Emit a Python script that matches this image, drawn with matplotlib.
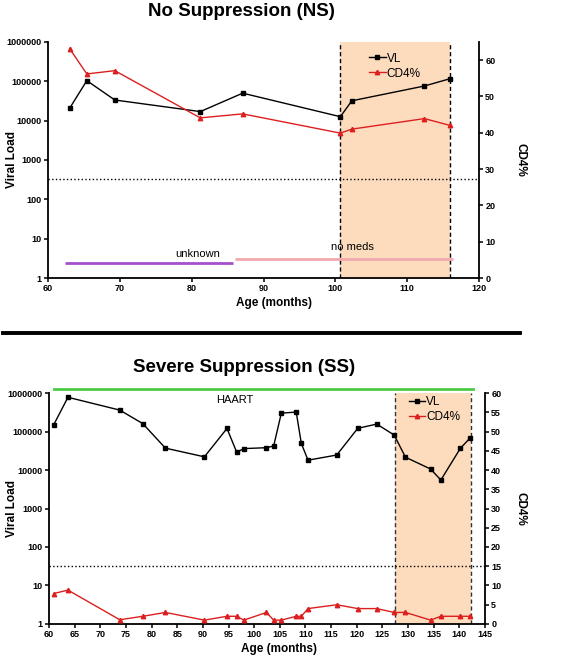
import numpy as np
import matplotlib
matplotlib.use("Agg")
import matplotlib.pyplot as plt
from matplotlib.lines import Line2D

plt.rcParams['font.family'] = ['Liberation Sans', 'DejaVu Sans']

# ── Data: No Suppression (NS) ────────────────────────────────────────────────
ns_age  = [63.0, 65.4, 69.3, 81.2, 87.1, 100.7, 102.3, 112.4, 116.0]
ns_vl   = [20500, 104000, 33500, 17000, 50000, 12600, 32000, 76000, 117000]
ns_cd4  = [63.2, 56.2, 57.1, 44.1, 45.2, 39.9, 41.0, 43.9, 42.0]
ns_shade = (100.7, 116.0)
ns_thresh = 27.3
ns_bars = [("unknown", 62.3, 85.8, 4.1, '#A64FCB', 80.8, 6.7),
           ("no meds", 86.1, 116.4, 5.2, '#F2A8AE', 102.4, 8.5)]

# ── Data: Severe Suppression (SS) ────────────────────────────────────────────
ss_age = [60.9, 63.7, 73.8, 78.3, 82.7, 90.3, 94.7, 96.6, 98.0, 102.4, 103.8,
          105.3, 108.2, 109.2, 110.5, 116.1, 120.2, 123.9, 127.3, 129.5,
          134.4, 136.4, 140.2, 142.1]
ss_vl  = [148000, 775000, 360000, 160000, 37000, 22000, 120000, 29000, 36000,
          38000, 42000, 300000, 320000, 49000, 18000, 24500, 121000, 156000,
          81000, 21500, 10600, 5500, 36500, 68000]
ss_cd4 = [7.9, 8.8, 1.1, 2.0, 3.0, 1.0, 2.0, 2.0, 1.0, 3.0, 1.0, 1.0, 2.0,
          2.0, 4.0, 5.0, 4.0, 4.0, 3.0, 3.0, 1.0, 2.0, 2.0, 2.0]
ss_shade = (127.4, 142.2)
ss_thresh = 15
ss_haart = (61.0, 142.6)

VL_TICKS = [1, 10, 100, 1000, 10000, 100000, 1000000]
RED = '#DC1F1F'
SHADE = '#FDDCBD'

fig = plt.figure(figsize=(5.63, 6.58), dpi=100)


def setup(ax, ax2, xlim, xticks, r_lim, r_ticks):
    ax.set_yscale('log')
    ax.set_ylim(1, 1e6)
    ax.set_xlim(*xlim)
    ax.set_xticks(xticks)
    ax.set_xticklabels([str(t) for t in xticks], fontsize=6.5, fontweight='bold')
    ax.set_yticks(VL_TICKS)
    ax.set_yticklabels([str(t) for t in VL_TICKS], fontsize=6.5, fontweight='bold')
    ax.yaxis.set_minor_locator(matplotlib.ticker.NullLocator())
    ax2.set_ylim(*r_lim)
    ax2.set_yticks(r_ticks)
    ax2.set_yticklabels([str(t) for t in r_ticks], fontsize=6.5, fontweight='bold')
    for a in (ax, ax2):
        a.spines['top'].set_visible(False)
        for s in ('left', 'right', 'bottom'):
            a.spines[s].set_linewidth(1.3)
        a.tick_params(width=1.1, length=3, pad=1.5)
    ax.spines['right'].set_visible(False)
    ax2.spines['left'].set_visible(False)
    ax2.spines['bottom'].set_visible(False)
    ax.set_xlabel("Age (months)", fontsize=8.5, fontweight='bold')
    ax.set_ylabel("Viral Load", fontsize=8.5, fontweight='bold')
    ax2.set_ylabel("CD4%", fontsize=8.5, fontweight='bold', rotation=270)


def legend(ax2, anchor):
    h = [Line2D([], [], color='black', marker='s', markersize=3.2, lw=1),
         Line2D([], [], color=RED, marker='^', markersize=3.2, lw=1)]
    ax2.legend(h, ["VL", "CD4%"], loc='upper left', bbox_to_anchor=anchor,
               frameon=False, fontsize=8.5, handlelength=1.4, handletextpad=0.1,
               borderaxespad=0, borderpad=0, labelspacing=0.25)


# ── Top panel ────────────────────────────────────────────────────────────────
ax = fig.add_axes([0.0853, 0.5775, 0.7655, 0.3587])
ax2 = ax.twinx()
setup(ax, ax2, (60, 120), list(range(60, 121, 10)), (0, 65), list(range(0, 61, 10)))
ax.axvspan(*ns_shade, color=SHADE, zorder=0, lw=0)
for x in ns_shade:
    ax.axvline(x, color='black', ls=(0, (3, 2)), lw=1)
ax2.axhline(ns_thresh, color='black', ls=':', lw=1)
for label, x0, x1, y, c, tx, ty in ns_bars:
    ax2.plot([x0, x1], [y, y], color=c, lw=2, solid_capstyle='butt')
    ax2.text(tx, ty, label, fontsize=8, ha='center', va='center')
ax.plot(ns_age, ns_vl, color='black', marker='s', markersize=3.2, lw=1, zorder=4)
ax2.plot(ns_age, ns_cd4, color=RED, marker='^', markersize=3.2, lw=1, zorder=4)
ax.xaxis.set_label_coords(0.525, -0.08)
ax.yaxis.set_label_coords(-0.07, 0.5)
ax2.yaxis.set_label_coords(1.11, 0.5)
legend(ax2, (0.745, 0.955))
fig.text(0.428, 0.982, "No Suppression (NS)", fontsize=13.5, fontweight='bold',
         ha='center', va='center')

# separator
fig.add_artist(Line2D([0.005, 0.924], [0.494, 0.494], color='black', lw=2.8))

# ── Bottom panel ─────────────────────────────────────────────────────────────
bx = fig.add_axes([0.087, 0.0517, 0.7744, 0.351])
bx2 = bx.twinx()
setup(bx, bx2, (60, 145), list(range(60, 146, 5)), (0, 60), list(range(0, 61, 5)))
bx.axvspan(*ss_shade, color=SHADE, zorder=0, lw=0)
for x in ss_shade:
    bx.axvline(x, color='#333333', ls=(0, (3, 2)), lw=1)
bx2.axhline(ss_thresh, color='black', ls=':', lw=1)
bx.plot(ss_haart, [1.27e6, 1.27e6], color='#4CCC44', lw=2, clip_on=False)
bx.text(96.3, 6.5e5, "HAART", fontsize=8, ha='center', va='center')
bx.plot(ss_age, ss_vl, color='black', marker='s', markersize=3.2, lw=1, zorder=4)
bx2.plot(ss_age, ss_cd4, color=RED, marker='^', markersize=3.2, lw=1, zorder=4)
bx.xaxis.set_label_coords(0.527, -0.082)
bx.yaxis.set_label_coords(-0.07, 0.5)
bx2.yaxis.set_label_coords(1.095, 0.5)
legend(bx2, (0.825, 0.985))
fig.text(0.433, 0.4422, "Severe Suppression (SS)", fontsize=13.5, fontweight='bold',
         ha='center', va='center')

fig.savefig("out.png", dpi=100)
